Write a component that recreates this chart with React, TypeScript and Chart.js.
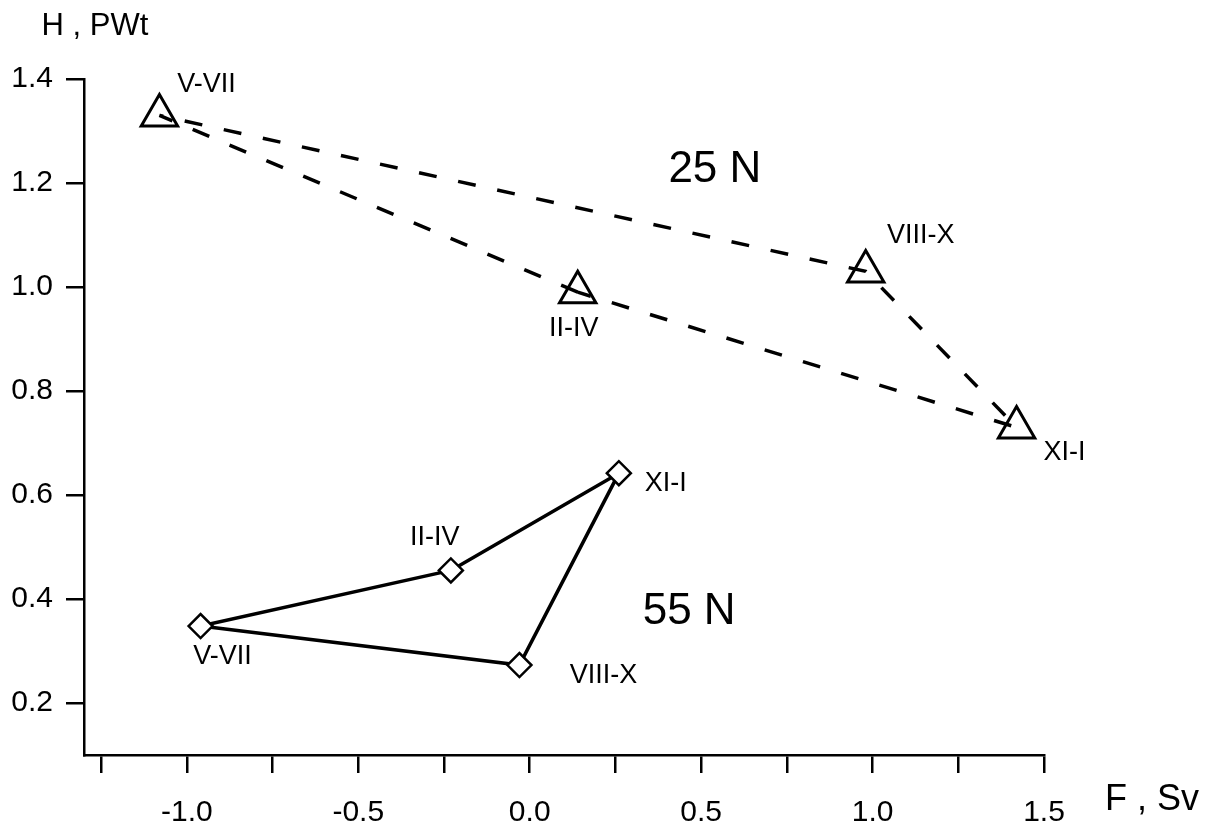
import React, { useEffect, useRef } from "react";
import { Chart, registerables } from "chart.js";

Chart.register(...registerables);

// ---- data ----
const seasons = ["II-IV", "V-VII", "VIII-X", "XI-I"];
const f25 = [0.14, -1.08, 0.98, 1.42];
const h25 = [0.99, 1.33, 1.03, 0.73];
const f55 = [-0.23, -0.96, -0.03, 0.26];
const h55 = [0.455, 0.348, 0.273, 0.642];
const regionLabels = ["25 N", "55 N"];
const regionF = [0.54, 0.465];
const regionH = [1.225, 0.375];
const xTickValues = [-1.25, -1.0, -0.75, -0.5, -0.25, 0, 0.25, 0.5, 0.75, 1.0, 1.25, 1.5];
const yTickValues = [0.2, 0.4, 0.6, 0.8, 1.0, 1.2, 1.4];
const xTitle = "F , Sv";
const yTitle = "H , PWt";

// ---- style (pixel offsets of season labels from their markers) ----
const FONT = "'Liberation Sans', Arial, sans-serif";
const labelOffsets25: Record<string, [number, number]> = {
  "II-IV": [-4, 36],
  "V-VII": [47, -31],
  "VIII-X": [55, -36],
  "XI-I": [48, 25],
};
const labelOffsets55: Record<string, [number, number]> = {
  "II-IV": [-16, -33],
  "V-VII": [22, 31],
  "VIII-X": [84, 11],
  "XI-I": [47, 10],
};

function closed(fs: number[], hs: number[]) {
  const pts = fs.map((f, i) => ({ x: f, y: hs[i] }));
  return pts.concat([pts[0]]);
}

const annotationPlugin = {
  id: "annotations",
  afterDatasetsDraw(chart: any) {
    const { ctx, scales } = chart;
    const xs = scales.x;
    const ys = scales.y;
    ctx.save();
    ctx.fillStyle = "#000";
    ctx.textAlign = "center";
    ctx.textBaseline = "middle";
    ctx.font = `27px ${FONT}`;
    seasons.forEach((s, i) => {
      const o25 = labelOffsets25[s];
      ctx.fillText(s, xs.getPixelForValue(f25[i]) + o25[0], ys.getPixelForValue(h25[i]) + o25[1]);
      const o55 = labelOffsets55[s];
      ctx.fillText(s, xs.getPixelForValue(f55[i]) + o55[0], ys.getPixelForValue(h55[i]) + o55[1]);
    });
    ctx.font = `44px ${FONT}`;
    regionLabels.forEach((r, i) => {
      ctx.fillText(r, xs.getPixelForValue(regionF[i]), ys.getPixelForValue(regionH[i]));
    });
    ctx.font = `31px ${FONT}`;
    ctx.fillText(yTitle, 95, 26);
    ctx.font = `36px ${FONT}`;
    ctx.fillText(xTitle, 1152, 800);
    ctx.restore();
  },
};

export default function App() {
  const ref = useRef<HTMLCanvasElement | null>(null);
  useEffect(() => {
    if (!ref.current) return;
    const n = seasons.length;
    const chart = new Chart(ref.current, {
      type: "scatter",
      data: {
        datasets: [
          {
            label: "25 N",
            data: closed(f25, h25),
            showLine: true,
            borderColor: "#000",
            borderWidth: 3.5,
            borderDash: [18, 22],
            pointStyle: "triangle",
            pointRadius: (c: any) => (c.dataIndex === n ? 0 : 21),
            pointBorderColor: "#000",
            pointBackgroundColor: "rgba(0,0,0,0)",
            pointBorderWidth: 3,
          },
          {
            label: "55 N",
            data: closed(f55, h55),
            showLine: true,
            borderColor: "#000",
            borderWidth: 3.5,
            pointStyle: "rectRot",
            pointRadius: (c: any) => (c.dataIndex === n ? 0 : 12),
            pointBorderColor: "#000",
            pointBackgroundColor: "#fff",
            pointBorderWidth: 2.5,
          },
        ],
      },
      options: {
        animation: false,
        responsive: false,
        devicePixelRatio: 1,
        layout: { padding: { left: 0, top: 79, right: 173, bottom: 0 } },
        plugins: {
          legend: { display: false },
          tooltip: { enabled: false },
        },
        scales: {
          x: {
            type: "linear",
            min: -1.3,
            max: 1.5,
            afterBuildTicks: (scale: any) => {
              scale.ticks = xTickValues.map((v) => ({ value: v }));
            },
            afterFit: (scale: any) => {
              scale.height = 81;
            },
            ticks: {
              autoSkip: false,
              maxRotation: 0,
              padding: 22,
              color: "#000",
              font: { family: FONT, size: 30 },
              callback: (v: any) => {
                const val = Number(v);
                return Math.abs(val * 2 - Math.round(val * 2)) < 1e-9 ? val.toFixed(1) : "";
              },
            },
            grid: {
              drawOnChartArea: false,
              drawTicks: true,
              tickLength: 18,
              color: "#000",
              lineWidth: 2.5,
            },
            border: { display: true, color: "#000", width: 2.5 },
          },
          y: {
            type: "linear",
            min: 0.1,
            max: 1.4,
            afterBuildTicks: (scale: any) => {
              scale.ticks = yTickValues.map((v) => ({ value: v }));
            },
            afterFit: (scale: any) => {
              scale.width = 84;
            },
            ticks: {
              autoSkip: false,
              padding: 13,
              color: "#000",
              font: { family: FONT, size: 30 },
              callback: (v: any) => Number(v).toFixed(1),
            },
            grid: {
              drawOnChartArea: false,
              drawTicks: true,
              tickLength: 18,
              color: "#000",
              lineWidth: 2.5,
            },
            border: { display: true, color: "#000", width: 2.5 },
          },
        },
      },
      plugins: [annotationPlugin],
    } as any);
    return () => chart.destroy();
  }, []);
  return (
    <div style={{ position: "absolute", left: 0, top: 0, width: 1217, height: 836, background: "#fff" }}>
      <canvas ref={ref} width={1217} height={836} style={{ display: "block", width: 1217, height: 836 }} />
    </div>
  );
}
